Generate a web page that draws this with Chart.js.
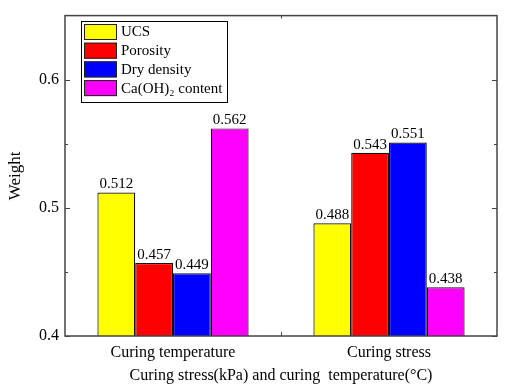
<!DOCTYPE html>
<html>
<head>
<meta charset="utf-8">
<script src="https://cdn.jsdelivr.net/npm/chart.js@4/dist/chart.umd.min.js"></script>
<style>
html,body{margin:0;padding:0;background:#fff;}
#wrap{width:505px;height:387px;position:relative;}
</style>
</head>
<body>
<div id="wrap"><canvas id="c" width="505" height="387"></canvas></div>
<script>
const categories = ["Curing temperature", "Curing stress"];
const seriesNames = ["UCS", "Porosity", "Dry density", "Ca(OH)\u2082 content"];
const ucs = [0.512, 0.488];
const porosity = [0.457, 0.543];
const dryDensity = [0.449, 0.551];
const caOH2 = [0.562, 0.438];
const yTicks = [0.4, 0.5, 0.6];
const yMinorTicks = [0.45, 0.55];
const colors = ["#ffff00", "#ff0000", "#0000ff", "#ff00ff"];

const FONT = "'Liberation Serif', 'Times New Roman', serif";

const overlay = {
  id: 'overlay',
  afterDraw(chart) {
    const ctx = chart.ctx;
    const a = chart.chartArea;
    const ys = chart.scales.y;
    const xs = chart.scales.x;
    ctx.save();
    // value labels
    ctx.fillStyle = '#000';
    ctx.font = '15px ' + FONT;
    ctx.textAlign = 'center';
    ctx.textBaseline = 'alphabetic';
    chart.data.datasets.forEach((ds, i) => {
      const meta = chart.getDatasetMeta(i);
      meta.data.forEach((bar, j) => {
        ctx.fillText(ds.data[j].toFixed(3), bar.x, bar.y - 4);
      });
    });
    // frame
    ctx.strokeStyle = '#444';
    ctx.lineWidth = 1.5;
    ctx.strokeRect(a.left, a.top, a.right - a.left, a.bottom - a.top);
    // y ticks inward
    ctx.lineWidth = 1;
    yTicks.forEach(v => {
      const p = Math.round(ys.getPixelForValue(v)) + 0.5;
      ctx.beginPath();
      ctx.moveTo(a.left, p); ctx.lineTo(a.left + 5, p);
      ctx.moveTo(a.right, p); ctx.lineTo(a.right - 5, p);
      ctx.stroke();
    });
    yMinorTicks.forEach(v => {
      const p = Math.round(ys.getPixelForValue(v)) + 0.5;
      ctx.beginPath();
      ctx.moveTo(a.left, p); ctx.lineTo(a.left + 3, p);
      ctx.moveTo(a.right, p); ctx.lineTo(a.right - 3, p);
      ctx.stroke();
    });
    // x separator tick
    const mid = Math.round((xs.getPixelForValue(0) + xs.getPixelForValue(1)) / 2) + 0.5;
    ctx.beginPath();
    ctx.moveTo(mid, a.bottom); ctx.lineTo(mid, a.bottom - 4);
    ctx.moveTo(mid, a.top); ctx.lineTo(mid, a.top + 3);
    ctx.stroke();
    // legend
    const lx = 81, ly = 21, lw = 146, lh = 81;
    ctx.fillStyle = '#fff';
    ctx.fillRect(lx, ly, lw, lh);
    ctx.strokeStyle = '#000';
    ctx.lineWidth = 1;
    ctx.strokeRect(lx + 0.5, ly + 0.5, lw, lh);
    ctx.font = '15px ' + FONT;
    ctx.textAlign = 'left';
    ctx.textBaseline = 'middle';
    chart.data.datasets.forEach((ds, i) => {
      const ry = ly + 3 + i * 18.7;
      ctx.fillStyle = ds.backgroundColor;
      ctx.fillRect(lx + 3, ry, 33, 16);
      ctx.strokeStyle = '#222';
      ctx.strokeRect(lx + 3.5, ry + 0.5, 32, 15);
      ctx.fillStyle = '#000';
      ctx.fillText(ds.label, lx + 40, ry + 8.5);
    });
    ctx.restore();
  }
};

const datasets = [ucs, porosity, dryDensity, caOH2].map((d, i) => ({
  label: seriesNames[i],
  data: d,
  backgroundColor: colors[i],
  borderColor: '#111',
  borderWidth: 1.2,
  categoryPercentage: 0.7,
  barPercentage: 1.0
}));

new Chart(document.getElementById('c'), {
  type: 'bar',
  data: { labels: categories, datasets },
  options: {
    responsive: false,
    animation: false,
    devicePixelRatio: 1,
    layout: { padding: { left: 0, right: 8, top: 15, bottom: 0 } },
    plugins: { legend: { display: false }, tooltip: { enabled: false } },
    scales: {
      x: {
        grid: { display: false, drawTicks: false },
        border: { display: false },
        ticks: { color: '#000', font: { family: FONT, size: 16 }, padding: 7 },
        title: { display: true, text: 'Curing stress(kPa) and curing  temperature(\u00B0C)', color: '#000', font: { family: FONT, size: 16 }, padding: { top: 0, bottom: 2 } },
        afterFit(s) { s.height = 51; }
      },
      y: {
        min: 0.4, max: 0.65,
        grid: { display: false, drawTicks: false },
        border: { display: false },
        afterBuildTicks(s) { s.ticks = yTicks.map(v => ({ value: v })); },
        ticks: { color: '#000', font: { family: FONT, size: 16 }, padding: 6, callback: v => v.toFixed(1) },
        title: { display: true, text: 'Weight', color: '#000', font: { family: FONT, size: 17 }, padding: { top: 5, bottom: 0 } },
        afterFit(s) { s.width = 65; }
      }
    }
  },
  plugins: [overlay]
});
</script>
</body>
</html>
